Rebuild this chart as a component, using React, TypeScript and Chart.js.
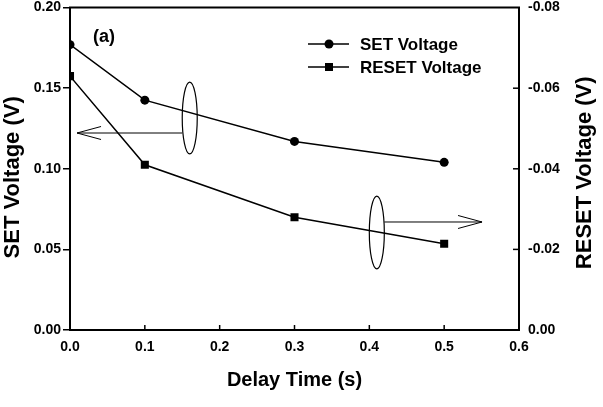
import React, { useEffect, useRef } from "react";
import { Chart, registerables } from "chart.js";

Chart.register(...registerables);

// ---- data ----
const delayTimes = [0.0, 0.1, 0.3, 0.5];
const setVoltage = [0.177, 0.1426, 0.117, 0.104];
const resetVoltage = [-0.063, -0.041, -0.028, -0.0214];

const xTickStep = 0.1;
const leftTickStep = 0.05;
const rightTickStep = 0.02;

const seriesNames = ["SET Voltage", "RESET Voltage"];
const xTitle = "Delay Time (s)";
const leftTitle = "SET Voltage (V)";
const rightTitle = "RESET Voltage (V)";
const panelLabel = "(a)";

// annotation marks (data coordinates on x / left y axis)
const ellipseLeft = { x: 0.16, y: 0.1315, ry: 0.0223 };
const arrowLeft = { y: 0.1222, tipX: 0.0094 };
const ellipseRight = { x: 0.41, y: 0.0605, ry: 0.0226 };
const arrowRight = { y: 0.067, tipX: 0.5506 };

const FONT = "'Liberation Sans', Arial, sans-serif";

const customPlugin = {
  id: "custom",
  afterDraw(chart: any) {
    const ctx = chart.ctx;
    const ca = chart.chartArea;
    const xs = chart.scales.x;
    const ys = chart.scales.y;
    const y2 = chart.scales.y2;
    ctx.save();
    ctx.strokeStyle = "#000";
    ctx.fillStyle = "#000";

    // top frame line
    ctx.lineWidth = 2;
    ctx.beginPath();
    ctx.moveTo(ca.left - 1, ca.top);
    ctx.lineTo(ca.right + 1, ca.top);
    ctx.stroke();

    // inward ticks on x axis
    ctx.lineWidth = 1.5;
    xs.ticks.forEach((t: any) => {
      const px = xs.getPixelForValue(t.value);
      if (Math.abs(px - ca.left) < 2 || Math.abs(px - ca.right) < 2) return;
      ctx.beginPath();
      ctx.moveTo(px, ca.bottom);
      ctx.lineTo(px, ca.bottom - 5);
      ctx.stroke();
    });
    // inward ticks on right axis
    y2.ticks.forEach((t: any) => {
      const py = y2.getPixelForValue(t.value);
      if (Math.abs(py - ca.top) < 2 || Math.abs(py - ca.bottom) < 2) return;
      ctx.beginPath();
      ctx.moveTo(ca.right, py);
      ctx.lineTo(ca.right - 6, py);
      ctx.stroke();
    });

    // ellipses
    const drawEllipse = (e: any) => {
      const cx = xs.getPixelForValue(e.x);
      const cy = ys.getPixelForValue(e.y);
      const ry = Math.abs(ys.getPixelForValue(e.y + e.ry) - cy);
      ctx.lineWidth = 1.2;
      ctx.beginPath();
      ctx.ellipse(cx, cy, 7.5, ry, 0, 0, Math.PI * 2);
      ctx.stroke();
      return cx;
    };
    const c1 = drawEllipse(ellipseLeft);
    const c2 = drawEllipse(ellipseRight);

    // arrows
    const drawArrow = (fromX: number, tipX: number, y: number) => {
      const dir = tipX < fromX ? -1 : 1;
      ctx.lineWidth = 1;
      ctx.beginPath();
      ctx.moveTo(fromX, y);
      ctx.lineTo(tipX, y);
      ctx.moveTo(tipX - dir * 24, y - 6.5);
      ctx.lineTo(tipX, y);
      ctx.lineTo(tipX - dir * 24, y + 6.5);
      ctx.stroke();
    };
    drawArrow(c1 - 7.5, xs.getPixelForValue(arrowLeft.tipX), ys.getPixelForValue(arrowLeft.y));
    drawArrow(c2 + 7.5, xs.getPixelForValue(arrowRight.tipX), ys.getPixelForValue(arrowRight.y));

    // legend
    const legendRows = [
      { label: seriesNames[0], y: 44, shape: "circle" },
      { label: seriesNames[1], y: 67, shape: "rect" },
    ];
    ctx.font = `bold 17px ${FONT}`;
    ctx.textBaseline = "middle";
    ctx.textAlign = "left";
    legendRows.forEach((r) => {
      ctx.lineWidth = 1.5;
      ctx.beginPath();
      ctx.moveTo(308, r.y);
      ctx.lineTo(349, r.y);
      ctx.stroke();
      if (r.shape === "circle") {
        ctx.beginPath();
        ctx.arc(329, r.y, 4.5, 0, Math.PI * 2);
        ctx.fill();
      } else {
        ctx.fillRect(325, r.y - 4, 8, 8);
      }
      ctx.fillText(r.label, 360, r.y + 1);
    });

    // panel label
    ctx.font = `bold 18px ${FONT}`;
    ctx.fillText(panelLabel, 93, 37);

    // vertical axis titles (read bottom to top)
    const midY = (ca.top + ca.bottom) / 2;
    const vTitle = (text: string, x: number, y: number) => {
      ctx.save();
      ctx.translate(x, y);
      ctx.rotate(-Math.PI / 2);
      ctx.textAlign = "center";
      ctx.textBaseline = "middle";
      ctx.font = `bold 22px ${FONT}`;
      ctx.fillText(text, 0, 0);
      ctx.restore();
    };
    vTitle(leftTitle, 13, midY + 8.5);
    vTitle(rightTitle, 585, midY + 4);

    ctx.restore();
  },
};

export default function App() {
  const canvasRef = useRef<HTMLCanvasElement | null>(null);

  useEffect(() => {
    if (!canvasRef.current) return;
    const tickFont = { family: FONT, size: 14, weight: "bold" as const };
    const yTickFont = { family: FONT, size: 14, weight: "bold" as const, lineHeight: 0.8 };
    const chart = new Chart(canvasRef.current, {
      type: "line",
      data: {
        datasets: [
          {
            label: seriesNames[0],
            data: delayTimes.map((x, i) => ({ x, y: setVoltage[i] })),
            yAxisID: "y",
            borderColor: "#000",
            backgroundColor: "#000",
            borderWidth: 1.5,
            pointStyle: "circle",
            pointRadius: 4.5,
            pointBorderWidth: 0,
            tension: 0,
          },
          {
            label: seriesNames[1],
            data: delayTimes.map((x, i) => ({ x, y: resetVoltage[i] })),
            yAxisID: "y2",
            borderColor: "#000",
            backgroundColor: "#000",
            borderWidth: 1.5,
            pointStyle: "rect",
            pointRadius: 5.7,
            pointBorderWidth: 0,
            tension: 0,
          },
        ],
      },
      options: {
        responsive: false,
        animation: false,
        layout: { padding: { top: 0, left: 0, right: 0, bottom: 0 } },
        plugins: { legend: { display: false }, tooltip: { enabled: false } },
        scales: {
          x: {
            type: "linear",
            position: "bottom",
            min: 0,
            max: 0.6,
            ticks: {
              stepSize: xTickStep,
              color: "#000",
              font: tickFont,
              padding: 9,
              maxRotation: 0,
              callback: (v: any) => Number(v).toFixed(1),
            },
            grid: { display: true, drawOnChartArea: false, drawTicks: false },
            border: { display: true, color: "#000", width: 2 },
            title: {
              display: true,
              text: xTitle,
              color: "#000",
              font: { family: FONT, size: 20, weight: "bold" },
              padding: { top: 0, bottom: 15 },
            },
            afterFit: (s: any) => {
              s.height = 77;
            },
          },
          y: {
            type: "linear",
            position: "left",
            min: 0,
            max: 0.2,
            ticks: {
              stepSize: leftTickStep,
              color: "#000",
              font: yTickFont,
              padding: 2,
              callback: (v: any) => Number(v).toFixed(2),
            },
            grid: {
              drawOnChartArea: false,
              drawTicks: true,
              tickLength: 7,
              color: "#000",
              lineWidth: 1.5,
            },
            border: { display: true, color: "#000", width: 2 },
            title: { display: false, text: leftTitle },
            afterFit: (s: any) => {
              s.width = 70;
            },
          },
          y2: {
            type: "linear",
            position: "right",
            min: -0.08,
            max: 0,
            reverse: true,
            ticks: {
              stepSize: rightTickStep,
              color: "#000",
              font: yTickFont,
              padding: 2,
              callback: (v: any) => Number(v).toFixed(2),
            },
            grid: {
              drawOnChartArea: false,
              drawTicks: true,
              tickLength: 7,
              color: "rgba(0,0,0,0)",
            },
            border: { display: true, color: "#000", width: 2 },
            title: { display: false, text: rightTitle },
            afterFit: (s: any) => {
              s.width = 84;
            },
          },
        },
      },
      plugins: [customPlugin],
    } as any);
    return () => chart.destroy();
  }, []);

  return (
    <div style={{ position: "fixed", left: 0, top: 0, width: 603, height: 407, background: "#fff" }}>
      <canvas ref={canvasRef} width={603} height={407} />
    </div>
  );
}
